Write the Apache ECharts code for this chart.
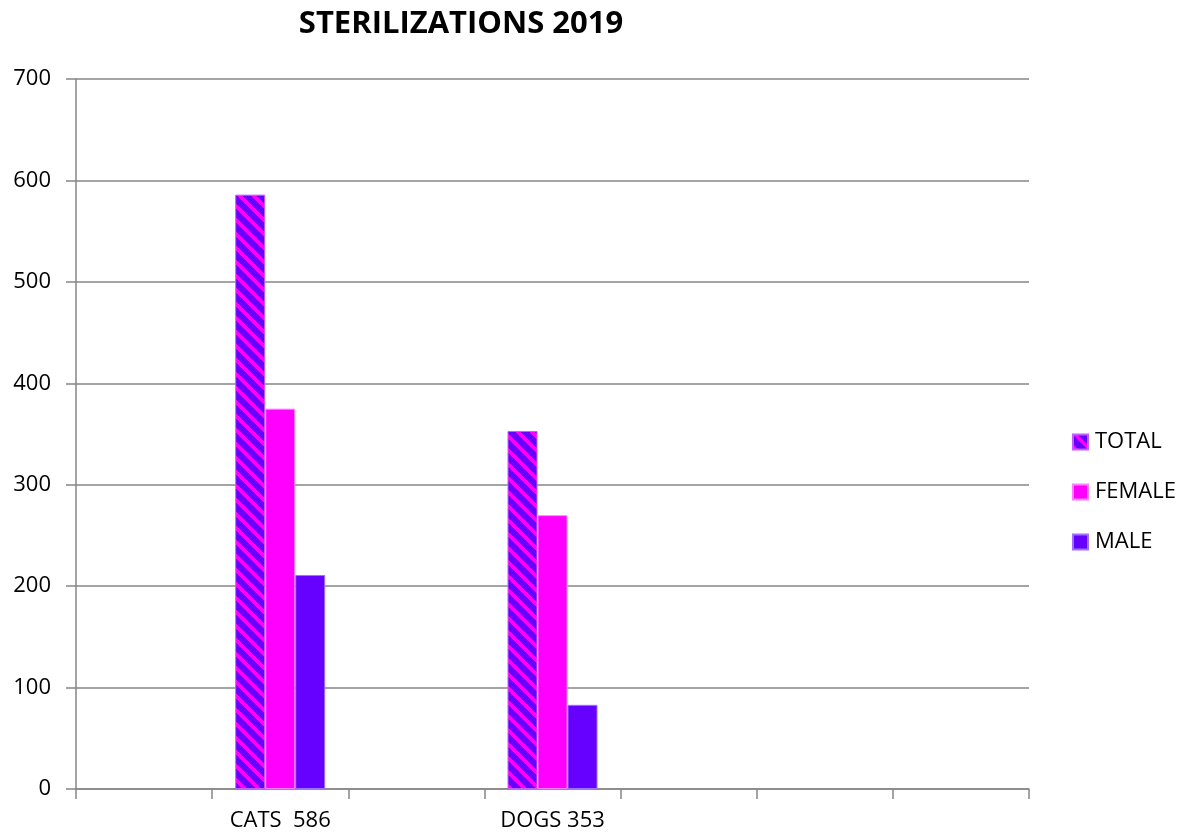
<!DOCTYPE html>
<html><head><meta charset="utf-8">
<script src="https://cdn.jsdelivr.net/npm/echarts@6/dist/echarts.min.js"></script>
<style>html,body{margin:0;padding:0;background:#fff}#c{width:1187px;height:834px}</style>
</head><body><div id="c"></div>
<script>
const categories = ['', 'CATS  586', '', 'DOGS 353', '', '', ''];
const totalValues = [null, 586, null, 353, null, null, null];
const femaleValues = [null, 375, null, 270, null, null, null];
const maleValues = [null, 211, null, 83, null, null, null];
const seriesNames = ['TOTAL', 'FEMALE', 'MALE'];
const yTicks = { min: 0, max: 700, interval: 100 };

const PURPLE = '#6600FF', MAGENTA = '#FF00FF';
function stripeCanvas() {
  const n = 14;
  const c = document.createElement('canvas');
  c.width = n; c.height = n;
  const ctx = c.getContext('2d');
  const img = ctx.createImageData(n, n);
  for (let y = 0; y < n; y++) for (let x = 0; x < n; x++) {
    const m = (((x - y) % n) + n) % n < 5;
    const i = (y * n + x) * 4;
    img.data[i] = m ? 255 : 102; img.data[i+1] = 0; img.data[i+2] = 255; img.data[i+3] = 255;
  }
  ctx.putImageData(img, 0, 0);
  return c;
}
const stripe = { image: stripeCanvas(), repeat: 'repeat' };

const chart = echarts.init(document.getElementById('c'), null, { renderer: 'canvas' });
const font = 'Open Sans';
chart.setOption({
  animation: false,
  backgroundColor: '#fff',
  title: {
    text: 'STERILIZATIONS 2019', left: 456, top: 4, textAlign: 'center',
    textStyle: { fontFamily: font, fontWeight: 'bold', fontSize: 31, color: '#000' }
  },
  grid: { left: 76, right: 158, top: 79, bottom: 45 },
  legend: {
    orient: 'vertical', left: 1067, top: 426, itemGap: 28, itemWidth: 15, itemHeight: 15,
    icon: 'rect',
    textStyle: { fontFamily: font, fontSize: 22, color: '#000', padding: [0, 0, 0, 2] },
    data: seriesNames
  },
  xAxis: {
    type: 'category', data: categories, boundaryGap: true,
    axisLine: { lineStyle: { color: '#868686', width: 1.5 } },
    axisTick: { show: true, length: 10, lineStyle: { color: '#868686', width: 1.5 } },
    axisLabel: { fontFamily: font, fontSize: 22, color: '#000', margin: 21, interval: 0 }
  },
  yAxis: {
    type: 'value', min: yTicks.min, max: yTicks.max, interval: yTicks.interval,
    axisLine: { show: true, lineStyle: { color: '#868686', width: 1.5 } },
    axisTick: { show: true, length: 10, lineStyle: { color: '#868686', width: 1.5 } },
    axisLabel: { fontFamily: font, fontSize: 22, color: '#000', margin: 25 },
    splitLine: { lineStyle: { color: '#868686', width: 1.5 } }
  },
  series: [
    { name: seriesNames[0], type: 'bar', data: totalValues, barWidth: 30, barGap: '0%',
      itemStyle: { color: stripe, borderColor: '#C060FF', borderWidth: 1 } },
    { name: seriesNames[1], type: 'bar', data: femaleValues, barWidth: 30, barGap: '0%',
      itemStyle: { color: MAGENTA, borderColor: '#FF80FF', borderWidth: 1 } },
    { name: seriesNames[2], type: 'bar', data: maleValues, barWidth: 30, barGap: '0%',
      itemStyle: { color: PURPLE, borderColor: '#A070FF', borderWidth: 1 } }
  ]
});
</script></body></html>
